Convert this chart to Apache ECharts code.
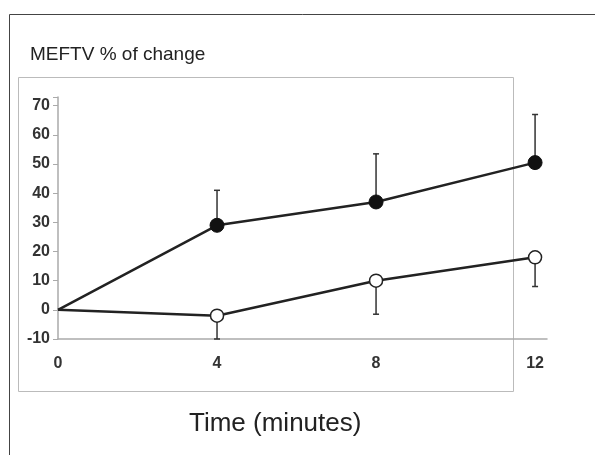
<!DOCTYPE html>
<html><head><meta charset="utf-8">
<script src="https://cdn.jsdelivr.net/npm/echarts@6/dist/echarts.min.js"></script>
<style>html,body{margin:0;padding:0;background:#fff}#c{width:595px;height:455px}</style>
</head><body><div id="c"></div>
<script>
var times = [0, 4, 8, 12];
var filledMean = [0, 29, 37, 50.5];
var filledErrTop = [null, 41, 53.5, 67];
var openMean = [0, -2, 10, 18];
var openErrBottom = [null, -10, -1.5, 8];
var yTicks = [-10, 0, 10, 20, 30, 40, 50, 60, 70];
var xTicks = [0, 4, 8, 12];

var chart = echarts.init(document.getElementById('c'), null, {renderer: 'canvas'});

function pairs(xs, ys){ return xs.map(function(x,i){return [x, ys[i]];}); }
function errData(xs, means, ends){
  var out = [];
  xs.forEach(function(x,i){ if (ends[i] !== null) out.push([x, means[i], ends[i]]); });
  return out;
}
function errRender(params, api){
  var x = api.value(0);
  var p0 = api.coord([x, api.value(1)]);
  var p1 = api.coord([x, api.value(2)]);
  var cap = 3;
  return {type: 'group', children: [
    {type: 'line', shape: {x1: p0[0], y1: p0[1], x2: p1[0], y2: p1[1]}, style: {stroke: '#333', lineWidth: 1.5}},
    {type: 'line', shape: {x1: p1[0]-cap, y1: p1[1], x2: p1[0]+cap, y2: p1[1]}, style: {stroke: '#333', lineWidth: 1.5}}
  ]};
}

var labelFont = '"Liberation Sans", Arial, sans-serif';

chart.setOption({
  animation: false,
  backgroundColor: '#fff',
  grid: {left: 58, right: 48, top: 97, bottom: 116},
  graphic: [
    {type: 'line', shape: {x1: 9.5, y1: 14.5, x2: 600, y2: 14.5}, style: {stroke: '#444', lineWidth: 1}, z: 0},
    {type: 'line', shape: {x1: 9.5, y1: 14.5, x2: 9.5, y2: 460}, style: {stroke: '#444', lineWidth: 1}, z: 0},
    {type: 'rect', shape: {x: 18.5, y: 77.5, width: 495, height: 314}, style: {fill: 'none', stroke: '#bbb', lineWidth: 1}, z: 0},
    {type: 'text', left: 30, top: 45, style: {text: 'MEFTV % of change', font: '19px ' + labelFont, fill: '#222'}},
    {type: 'text', left: 189, top: 411, style: {text: 'Time (minutes)', font: '26px ' + labelFont, fill: '#222'}}
  ],
  xAxis: {
    type: 'value', min: 0, max: 12.3, interval: 4,
    axisLine: {show: true, onZero: false, lineStyle: {color: '#aaa', width: 1.5}},
    axisTick: {show: false},
    splitLine: {show: false},
    axisLabel: {
      color: '#333', fontSize: 16, fontFamily: labelFont, fontWeight: 'bold', margin: 17,
      formatter: function(v){ return xTicks.indexOf(v) >= 0 ? String(v) : ''; }
    }
  },
  yAxis: {
    type: 'value', min: -10, max: 73, interval: 10,
    axisLine: {show: true, lineStyle: {color: '#aaa', width: 1.5}},
    axisTick: {show: true, length: 5, lineStyle: {color: '#aaa'}},
    splitLine: {show: false},
    axisLabel: {
      color: '#333', fontSize: 16, fontFamily: labelFont, fontWeight: 'bold', margin: 8,
      formatter: function(v){ return yTicks.indexOf(v) >= 0 ? String(v) : ''; }
    }
  },
  series: [
    {type: 'custom', renderItem: errRender, data: errData(times, filledMean, filledErrTop), z: 1, silent: true},
    {type: 'custom', renderItem: errRender, data: errData(times, openMean, openErrBottom), z: 1, silent: true},
    {type: 'line', data: pairs(times, filledMean), z: 3,
      lineStyle: {color: '#222', width: 2.5},
      symbol: 'circle', symbolSize: function(v, p){ return p.dataIndex === 0 ? 0 : 14; },
      itemStyle: {color: '#111', borderColor: '#111', borderWidth: 1}},
    {type: 'line', data: pairs(times, openMean), z: 3,
      lineStyle: {color: '#222', width: 2.5},
      symbol: 'circle', symbolSize: function(v, p){ return p.dataIndex === 0 ? 0 : 13; },
      itemStyle: {color: '#fff', borderColor: '#222', borderWidth: 1.5}}
  ]
});
</script></body></html>
